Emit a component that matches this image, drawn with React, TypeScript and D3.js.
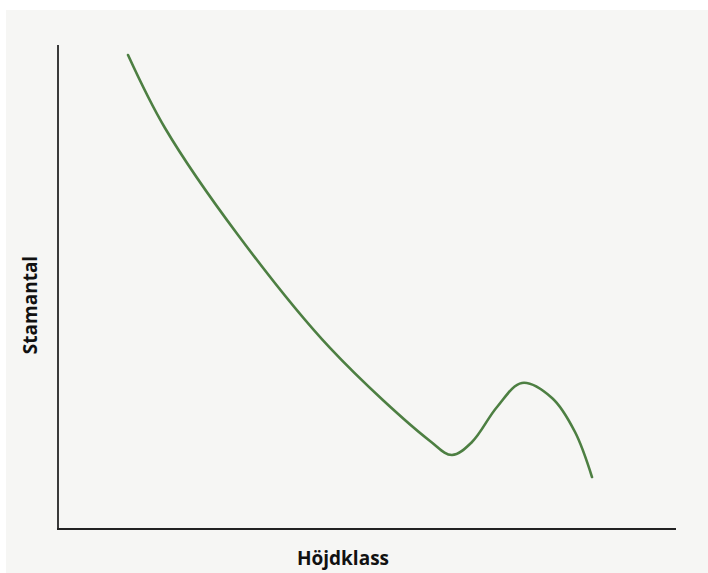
import React from "react";
import * as d3 from "d3";

const heightClass = [11.33, 17.31, 29.13, 44.01, 60.19, 63.75, 66.99, 71.04, 75.08, 79.94, 83.66, 86.41];
const stemCount = [97.93, 82.85, 60.74, 37.4, 18.18, 15.29, 17.98, 25.21, 30.17, 27.07, 20.04, 10.74];
const xLabel = "Höjdklass";
const yLabel = "Stamantal";

export default function App() {
  const W = 708, H = 573;
  const left = 58, right = 676, top = 45, bottom = 529;
  const x = d3.scaleLinear().domain([0, 100]).range([left, right]);
  const y = d3.scaleLinear().domain([0, 100]).range([bottom, top]);
  const pts: [number, number][] = heightClass.map((v, i) => [v, stemCount[i]]);
  const line = d3.line<[number, number]>().x(d => x(d[0])).y(d => y(d[1])).curve(d3.curveCatmullRom.alpha(0.5));
  const font = "'Open Sans', Lato, sans-serif";
  return (
    <svg width={W} height={H} style={{ position: "absolute", left: 0, top: 0 }}>
      <rect x={0} y={0} width={W} height={H} fill="#ffffff" />
      <rect x={6} y={10} width={W - 6} height={H - 10} fill="#f6f6f4" />
      <path d={line(pts) || ""} fill="none" stroke="#4d7f42" strokeWidth={2.6} strokeLinecap="round" />
      <line x1={left} y1={top} x2={left} y2={bottom} stroke="#3a3a3a" strokeWidth={2} />
      <line x1={left - 1} y1={bottom} x2={right} y2={bottom} stroke="#222" strokeWidth={2} />
      <text x={343} y={565} textAnchor="middle" fontFamily={font} fontWeight="bold" fontSize={19} fill="#111">{xLabel}</text>
      <text transform="translate(37,305) rotate(-90)" textAnchor="middle" fontFamily={font} fontWeight="bold" fontSize={19} fill="#111">{yLabel}</text>
    </svg>
  );
}
